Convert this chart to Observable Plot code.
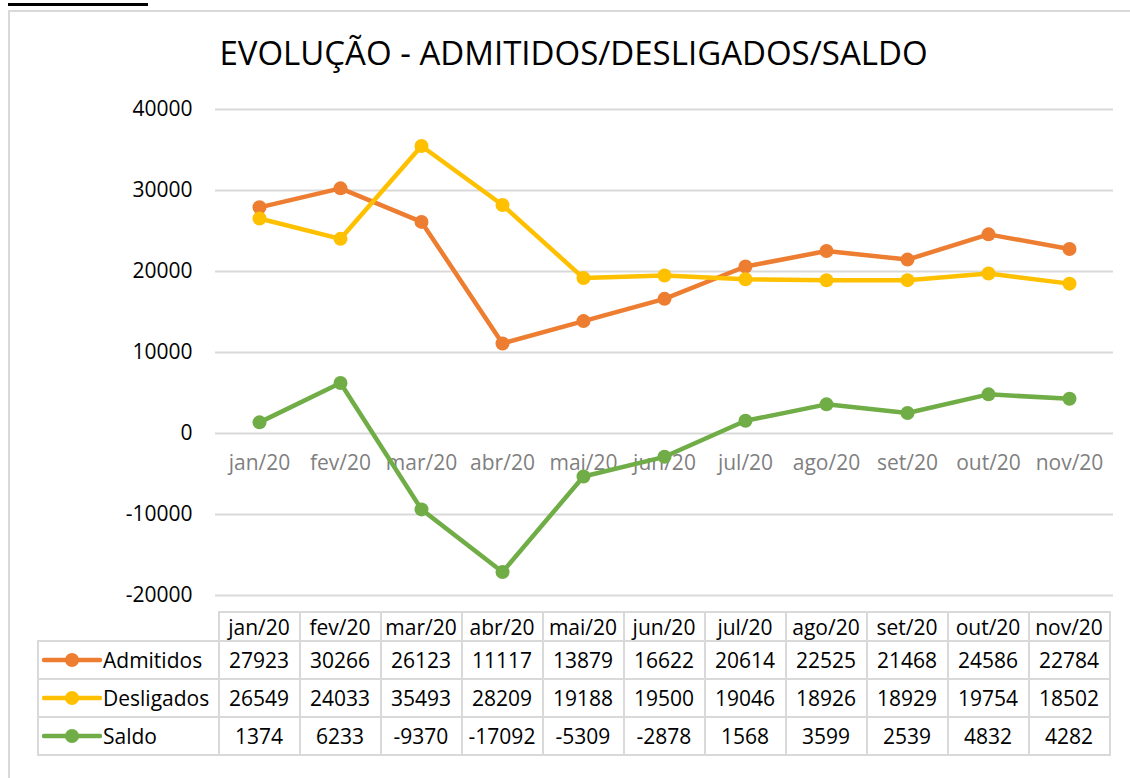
<!DOCTYPE html>
<html>
<head>
<meta charset="utf-8">
<script src="https://cdn.jsdelivr.net/npm/d3@7"></script>
<script src="https://cdn.jsdelivr.net/npm/@observablehq/plot@0.6"></script>
<style>
  html, body { margin: 0; padding: 0; background: #fff; }
  #wrap { position: relative; width: 1130px; height: 778px; overflow: hidden; font-family: "Open Sans", sans-serif; }
  #frame { position: absolute; left: 8px; top: 10px; width: 1140px; height: 800px; border-left: 2px solid #d9d9d9; border-top: 2px solid #d9d9d9; box-sizing: border-box; }
  #topbar { position: absolute; left: 8px; top: 3px; width: 140px; height: 3px; background: #000; }
  #title { position: absolute; left: 0; width: 1147px; top: 30px; text-align: center; font-size: 33px; color: #000; white-space: nowrap; }
  #chart { position: absolute; left: 0; top: 0; }
  .cell { position: absolute; box-sizing: border-box; border: 2px solid #d9d9d9; font-size: 21px; color: #000; display: flex; align-items: center; justify-content: center; background: transparent; }
  .leg { justify-content: flex-start; }
</style>
</head>
<body>
<div id="wrap">
  <div id="topbar"></div>
  <div id="frame"></div>
  <div id="title">EVOLUÇÃO - ADMITIDOS/DESLIGADOS/SALDO</div>
  <div id="chart"></div>
  <div id="table"></div>
</div>
<script>
const months = ["jan/20","fev/20","mar/20","abr/20","mai/20","jun/20","jul/20","ago/20","set/20","out/20","nov/20"];
const admitidos = [27923, 30266, 26123, 11117, 13879, 16622, 20614, 22525, 21468, 24586, 22784];
const desligados = [26549, 24033, 35493, 28209, 19188, 19500, 19046, 18926, 18929, 19754, 18502];
const saldo = [1374, 6233, -9370, -17092, -5309, -2878, 1568, 3599, 2539, 4832, 4282];
const seriesNames = ["Admitidos", "Desligados", "Saldo"];
const seriesColors = ["#ED7D31", "#FFC000", "#70AD47"];
const yTicks = [-20000, -10000, 0, 10000, 20000, 30000, 40000];

const seriesValues = [admitidos, desligados, saldo];
const data = [];
seriesNames.forEach((s, i) => months.forEach((m, j) => data.push({series: s, month: m, value: seriesValues[i][j]})));

const plot = Plot.plot({
  width: 1130,
  height: 610,
  marginTop: 109,
  marginBottom: 15,
  marginLeft: 215,
  marginRight: 17,
  style: {fontFamily: "Open Sans, sans-serif", fontSize: "21px", background: "transparent"},
  x: {type: "point", domain: months, padding: 0.5, axis: null},
  y: {domain: [-20000, 40000], ticks: yTicks, label: null},
  color: {domain: seriesNames, range: seriesColors},
  marks: [
    Plot.gridY(yTicks, {stroke: "#d9d9d9", strokeOpacity: 1, strokeWidth: 2}),
    Plot.axisY(yTicks, {tickSize: 0, tickPadding: 23, label: null, fill: "#000", fontSize: 21, tickFormat: d => String(d)}),
    Plot.text(months, {x: d => d, y: () => 0, dy: 30, fill: "#7f7f7f", fontSize: 21}),
    Plot.line(data, {x: "month", y: "value", z: "series", stroke: "series", strokeWidth: 4.5, strokeLinejoin: "round"}),
    Plot.dot(data, {x: "month", y: "value", fill: "series", r: 7})
  ]
});
document.getElementById("chart").appendChild(plot);

// Data table aligned to the x scale
const xs = plot.scale("x");
const step = xs.step !== undefined ? xs.step : (xs.apply(months[1]) - xs.apply(months[0]));
const table = document.getElementById("table");
function cell(left, top, w, h, html, cls) {
  const d = document.createElement("div");
  d.className = "cell" + (cls ? " " + cls : "");
  d.style.left = left + "px"; d.style.top = top + "px";
  d.style.width = (w + 2) + "px"; d.style.height = (h + 2) + "px";
  d.innerHTML = html;
  table.appendChild(d);
}
const headerTop = 611, headerH = 29, rowH = 38;
const legLeft = 37;
months.forEach((m, j) => {
  const left = xs.apply(m) - step / 2 - 1;
  cell(left, headerTop, step, headerH, m);
  seriesValues.forEach((vals, i) => {
    cell(left, headerTop + headerH + i * rowH, step, rowH, String(vals[j]));
  });
});
seriesNames.forEach((s, i) => {
  const firstLeft = xs.apply(months[0]) - step / 2 - 1;
  const sw = `<svg width="60" height="16" style="margin-left:3px;margin-right:1px"><line x1="2" y1="8" x2="58" y2="8" stroke="${seriesColors[i]}" stroke-width="4.5" stroke-linecap="round"/><circle cx="30" cy="8" r="7" fill="${seriesColors[i]}"/></svg>`;
  cell(legLeft, headerTop + headerH + i * rowH, firstLeft - legLeft, rowH, sw + s, "leg");
});
</script>
</body>
</html>
